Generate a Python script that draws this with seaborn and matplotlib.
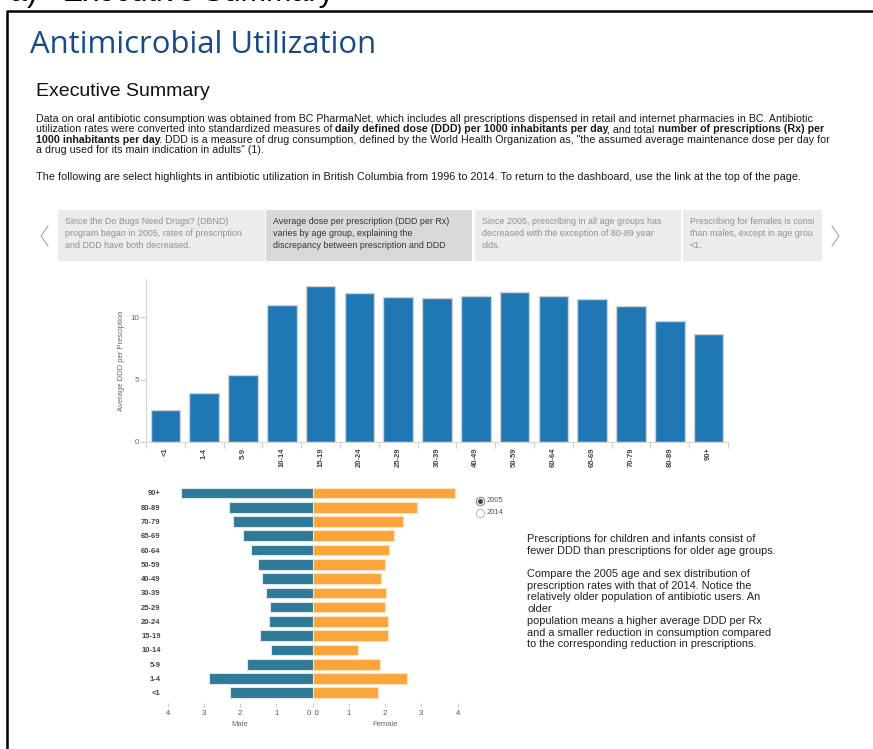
import numpy as np
import pandas as pd
import matplotlib.pyplot as plt
import seaborn as sns
from matplotlib.lines import Line2D
from matplotlib.patches import Rectangle

W, H = 873, 749

# data
AGE_GROUPS = ["<1", "1-4", "5-9", "10-14", "15-19", "20-24", "25-29", "30-39",
              "40-49", "50-59", "60-64", "65-69", "70-79", "80-89", "90+"]
DDD_PER_RX = [2.6, 3.9, 5.4, 11.0, 12.45, 11.92, 11.63, 11.52,
              11.71, 11.97, 11.65, 11.41, 10.85, 9.68, 8.67]
MALE_2005 = [2.27, 2.85, 1.82, 1.14, 1.46, 1.20, 1.18, 1.29,
             1.40, 1.51, 1.69, 1.91, 2.18, 2.29, 3.64]
FEMALE_2005 = [1.82, 2.60, 1.86, 1.26, 2.07, 2.07, 2.00, 2.02,
               1.90, 2.00, 2.12, 2.26, 2.49, 2.88, 3.93]
PYR_TICKS = [0, 1, 2, 3, 4]
YEARS = ["2005", "2014"]

INTRO_LINES = [
    [("Data on oral antibiotic consumption was obtained from BC PharmaNet, which includes all "
      "prescriptions dispensed in retail and internet pharmacies in BC. Antibiotic", False)],
    [("utilization rates were converted into standardized measures of ", False),
     ("daily defined dose (DDD) per 1000 inhabitants per day", True),
     (", and total ", False),
     ("number of prescriptions (Rx) per", True)],
    [("1000 inhabitants per day", True),
     (". DDD is a measure of drug consumption, defined by the World Health Organization as, "
      "\"the assumed average maintenance dose per day for", False)],
    [("a drug used for its main indication in adults\" (1).", False)],
]
HIGHLIGHTS = ("The following are select highlights in antibiotic utilization in British Columbia "
              "from 1996 to 2014. To return to the dashboard, use the link at the top of the page.")

CARDS = [
    ["Since the Do Bugs Need Drugs? (DBND)", "program began in 2005, rates of prescription",
     "and DDD have both decreased."],
    ["Average dose per prescription (DDD per Rx)", "varies by age group, explaining the",
     "discrepancy between prescription and DDD"],
    ["Since 2005, prescribing in all age groups has", "decreased with the exception of 80-89 year",
     "olds."],
    ["Prescribing for females is consi", "than males, except in age grou", "<1."],
]
SIDE_NOTE = [
    "Prescriptions for children and infants consist of",
    "fewer DDD than prescriptions for older age groups.",
    "",
    "Compare the 2005 age and sex distribution of",
    "prescription rates with that of 2014. Notice the",
    "relatively older population of antibiotic users. An",
    "older",
    "population means a higher average DDD per Rx",
    "and a smaller reduction in consumption compared",
    "to the corresponding reduction in prescriptions.",
]


def fx(x):
    return x / W


def fy(y):
    return 1 - y / H


def box(l, t, r, b):
    return [l / W, 1 - b / H, (r - l) / W, (b - t) / H]


sns.set_theme(style="white")
plt.rcParams['font.family'] = ['Liberation Sans', 'DejaVu Sans']

fig = plt.figure(figsize=(W / 100, H / 100), dpi=100, facecolor="white")
renderer = fig.canvas.get_renderer()

# page frame + cut-off heading above it
fig.text(fx(10), fy(1), "a)   Executive Summary", fontsize=22, color="black", va="baseline")
fig.add_artist(Line2D([fx(7), fx(7), fx(W)], [0, fy(11), fy(11)], color="black", lw=1.8,
                      transform=fig.transFigure))

fig.text(fx(30), fy(45), "Antimicrobial Utilization", family=["Open Sans", "DejaVu Sans"],
         fontsize=22.4, color="#174a87", va="center")
fig.text(fx(36), fy(92), "Executive Summary", fontsize=14, color="#111111", va="center")


def rich_line(x, y, parts, size, color):
    a = fig.text(0, 0, "x x", fontsize=size)
    b = fig.text(0, 0, "xx", fontsize=size)
    sp = a.get_window_extent(renderer).width - b.get_window_extent(renderer).width
    a.remove()
    b.remove()
    for s, bold in parts:
        lead = len(s) - len(s.lstrip(" "))
        trail = len(s) - len(s.rstrip(" "))
        x += lead * sp
        t = fig.text(fx(x), fy(y), s.strip(" "), fontsize=size,
                     fontweight="bold" if bold else "normal", color=color, va="center")
        x += t.get_window_extent(renderer).width + trail * sp - (1.5 if bold else 0)


for i, parts in enumerate(INTRO_LINES):
    rich_line(36, 119 + i * 10.3, parts, 7.7, "#1a1a1a")
fig.text(fx(36), fy(177), HIGHLIGHTS, fontsize=7.8, color="#1a1a1a", va="center")

# carousel cards
card_x = [(58, 265), (266, 472), (475, 681), (683, 822)]
for k, ((l, r), lines) in enumerate(zip(card_x, CARDS)):
    selected = k == 1
    fig.add_artist(Rectangle((fx(l), fy(261)), (r - l) / W, 51 / H, transform=fig.transFigure,
                             facecolor="#d9d9d9" if selected else "#ececec", edgecolor="none"))
    for j, line in enumerate(lines):
        fig.text(fx(l + 7), fy(222 + j * 12), line, fontsize=6.4,
                 color="#333333" if selected else "#8f8f8f", va="center")
fig.add_artist(Line2D([fx(48), fx(41), fx(48)], [fy(226), fy(236), fy(246)],
                      color="#b5b5b5", lw=1, transform=fig.transFigure))
fig.add_artist(Line2D([fx(832), fx(839), fx(832)], [fy(226), fy(236), fy(246)],
                      color="#b5b5b5", lw=1, transform=fig.transFigure))

# average DDD per prescription
ddd = pd.DataFrame({"age": AGE_GROUPS, "ddd": DDD_PER_RX})
ax = fig.add_axes(box(146, 279, 728, 442))
sns.barplot(data=ddd, x="age", y="ddd", order=AGE_GROUPS, color="#1f77b4", saturation=1,
            width=0.76, edgecolor="#d2d2d2", linewidth=1, ax=ax)
ax.set_xlim(-0.5, 14.5)
ax.set_ylim(0, 13.05)
ax.set_yticks([0, 5, 10])
ax.set_xticks(np.arange(-0.5, 15, 1), minor=True)
ax.tick_params(axis="y", left=True, length=4, width=0.8, color="#d0d0d0",
               labelsize=5.8, labelcolor="#666666", pad=1)
ax.tick_params(axis="x", which="major", length=0, labelsize=5.5, labelcolor="#444444",
               rotation=90, pad=4)
ax.tick_params(axis="x", which="minor", bottom=True, length=4, width=0.8, color="#d0d0d0")
for lbl in ax.get_xticklabels():
    lbl.set_fontweight("bold")
ax.set_xlabel("")
ax.set_ylabel("Average DDD per Presciption", fontsize=5.5, color="#666666", labelpad=4)
sns.despine(ax=ax)
for side in ["left", "bottom"]:
    ax.spines[side].set_color("#d8d8d8")
    ax.spines[side].set_linewidth(0.8)

# age / sex pyramid, 2005
pyr = pd.DataFrame({"age": AGE_GROUPS, "male": MALE_2005, "female": FEMALE_2005})
order = AGE_GROUPS[::-1]
axm = fig.add_axes(box(167.5, 483, 312.5, 703))
axf = fig.add_axes(box(312.5, 483, 457.5, 703))
sns.barplot(data=pyr, x="male", y="age", order=order, orient="h", color="#2e7a97",
            saturation=1, width=0.75, edgecolor="#dbe7ec", linewidth=0.8, ax=axm)
sns.barplot(data=pyr, x="female", y="age", order=order, orient="h", color="#fba53b",
            saturation=1, width=0.75, edgecolor="#fde3c2", linewidth=0.8, ax=axf)
axm.set_xlim(4, 0)
axf.set_xlim(0, 4)
# pad the two zero labels so they sit apart, as in the reference
axm.set_xticks(PYR_TICKS, [f"{t}\u2003" if t == 0 else str(t) for t in PYR_TICKS])
axf.set_xticks(PYR_TICKS, [f"\u2003{t}" if t == 0 else str(t) for t in PYR_TICKS])
for a, name in [(axm, "Male"), (axf, "Female")]:
    a.set_ylim(14.72, -0.7)
    a.tick_params(axis="x", bottom=True, length=3, width=0.8, color="#d0d0d0",
                  labelsize=5.5, labelcolor="#555555", pad=2)
    a.set_xlabel(name, fontsize=5.5, color="#666666", labelpad=3)
    for s in a.spines.values():
        s.set_visible(False)
axm.set_ylabel("")
axm.tick_params(axis="y", length=0, labelsize=5.5, labelcolor="#444444", pad=5)
for lbl in axm.get_yticklabels():
    lbl.set_fontweight("bold")
axf.set_ylabel("")
axf.set_yticks([])

# year selector
for i, year in enumerate(YEARS):
    yy = fy(501 + i * 12)
    fig.add_artist(Line2D([fx(480)], [yy], marker="o", markersize=6, markerfacecolor="white",
                          markeredgecolor="#8a8a8a" if i == 0 else "#c0c0c0", markeredgewidth=0.8,
                          transform=fig.transFigure))
    if i == 0:
        fig.add_artist(Line2D([fx(480)], [yy], marker="o", markersize=2.6, color="#444444",
                              transform=fig.transFigure))
    fig.text(fx(487), yy, year, fontsize=5.5, color="#555555", va="center")

for i, line in enumerate(SIDE_NOTE):
    if line:
        fig.text(fx(527), fy(539 + i * 11.7), line, fontsize=7.9, color="#222222", va="center")

fig.savefig("out.png", dpi=100, facecolor="white")
